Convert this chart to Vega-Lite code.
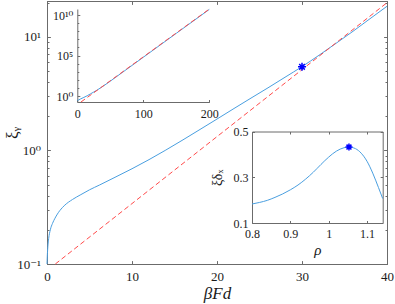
{
  "$schema": "https://vega.github.io/schema/vega-lite/v6.json",
  "width": 340,
  "height": 263,
  "autosize": "none",
  "padding": {"left": 47, "top": 1, "right": 8, "bottom": 40},
  "background": "white",
  "config": {
    "view": {"stroke": "#6b6b6b", "strokeWidth": 1},
    "axis": {
      "grid": false,
      "domainColor": "#6b6b6b",
      "tickColor": "#6b6b6b",
      "labelFont": "'Liberation Serif', 'Times New Roman', 'DejaVu Serif', serif",
      "titleFont": "'Liberation Serif', 'Times New Roman', 'DejaVu Serif', serif",
      "labelColor": "#1a1a1a",
      "titleColor": "#1a1a1a",
      "titleFontWeight": "normal",
      "labelFlush": false,
      "labelOverlap": false,
      "zindex": 1
    }
  },
  "datasets": {
    "blue": [
      {"x": 0, "y": 0.1}, {"x": 0.03, "y": 0.115}, {"x": 0.1, "y": 0.142}, {"x": 0.2, "y": 0.168},
      {"x": 0.39, "y": 0.2}, {"x": 0.65, "y": 0.228}, {"x": 0.94, "y": 0.253}, {"x": 1.5, "y": 0.295},
      {"x": 2.1, "y": 0.33}, {"x": 3, "y": 0.37}, {"x": 3.9, "y": 0.405}, {"x": 5, "y": 0.45},
      {"x": 6.2, "y": 0.497}, {"x": 8, "y": 0.58}, {"x": 10, "y": 0.69}, {"x": 12, "y": 0.83},
      {"x": 13.9, "y": 1.0}, {"x": 16, "y": 1.24}, {"x": 18, "y": 1.53}, {"x": 20, "y": 1.89},
      {"x": 22, "y": 2.34}, {"x": 24, "y": 2.89}, {"x": 26, "y": 3.56}, {"x": 28, "y": 4.41},
      {"x": 30, "y": 5.47}, {"x": 32, "y": 6.89}, {"x": 34, "y": 8.77}, {"x": 36, "y": 11.2},
      {"x": 38, "y": 14.45}, {"x": 40, "y": 18.6}
    ],
    "red": [{"x": 0.98, "y": 0.1}, {"x": 40, "y": 20.0}],
    "star": [{"x": 30, "y": 5.45}],
    "blueA": [
      {"x": 0, "y": 0.3}, {"x": 2, "y": 0.33}, {"x": 5, "y": 0.45}, {"x": 10, "y": 0.69},
      {"x": 15, "y": 1.1}, {"x": 20, "y": 1.89}, {"x": 25, "y": 3.2}, {"x": 30, "y": 5.47},
      {"x": 40, "y": 18.6}, {"x": 60, "y": 270}, {"x": 100, "y": 62000}, {"x": 150, "y": 56000000},
      {"x": 200, "y": 50000000000}
    ],
    "redA": [{"x": 5.56, "y": 0.186}, {"x": 200, "y": 55000000000}],
    "blueB": [
      {"x": 0.8, "y": 0.183}, {"x": 0.82, "y": 0.19}, {"x": 0.84, "y": 0.199}, {"x": 0.86, "y": 0.212},
      {"x": 0.88, "y": 0.227}, {"x": 0.9, "y": 0.245}, {"x": 0.92, "y": 0.266}, {"x": 0.94, "y": 0.292},
      {"x": 0.96, "y": 0.322}, {"x": 0.98, "y": 0.356}, {"x": 1.0, "y": 0.388}, {"x": 1.02, "y": 0.414},
      {"x": 1.04, "y": 0.429}, {"x": 1.053, "y": 0.432}, {"x": 1.07, "y": 0.425}, {"x": 1.085, "y": 0.405},
      {"x": 1.1, "y": 0.37}, {"x": 1.115, "y": 0.318}, {"x": 1.13, "y": 0.255}, {"x": 1.141, "y": 0.207}
    ],
    "starB": [{"x": 1.053, "y": 0.432}]
  },
  "layer": [
    {
      "layer": [
        {
          "data": {"name": "blue"},
          "mark": {"type": "line", "color": "#4a9fe0", "strokeWidth": 1, "interpolate": "monotone"},
          "encoding": {
            "x": {
              "field": "x", "type": "quantitative",
              "scale": {"domain": [0, 40], "nice": false, "zero": false},
              "axis": {
                "orient": "bottom", "values": [0, 10, 20, 30, 40], "tickSize": -3.4,
                "labelPadding": 10, "labelFontSize": 13,
                "title": "βFd", "titleFontSize": 17, "titleFontStyle": "italic", "titlePadding": 2
              }
            },
            "y": {
              "field": "y", "type": "quantitative",
              "scale": {"type": "log", "domain": [0.1, 20.7], "nice": false},
              "axis": {
                "orient": "left",
                "values": [0.1, 0.2, 0.3, 0.4, 0.5, 0.6, 0.7, 0.8, 0.9, 1, 2, 3, 4, 5, 6, 7, 8, 9, 10, 20],
                "labelExpr": "datum.value == 0.1 ? '10⁻¹' : datum.value == 1 ? '10⁰' : datum.value == 10 ? '10¹' : ''",
                "tickSize": {"condition": {"test": "datum.value == 0.1 || datum.value == 1 || datum.value == 10", "value": -3.4}, "value": -2},
                "labelPadding": 10, "labelFontSize": 13,
                "title": "ξᵧ", "titleFontSize": 17, "titlePadding": -5
              }
            }
          }
        },
        {
          "data": {"name": "red"},
          "mark": {"type": "line", "color": "#ff4a4a", "strokeWidth": 1, "strokeDash": [5, 3]},
          "encoding": {
            "x": {
              "field": "x", "type": "quantitative",
              "scale": {"domain": [0, 40], "nice": false, "zero": false},
              "axis": {"orient": "top", "values": [0, 10, 20, 30, 40], "tickSize": -3.4, "labels": false, "title": null}
            },
            "y": {
              "field": "y", "type": "quantitative",
              "scale": {"type": "log", "domain": [0.1, 20.7], "nice": false},
              "axis": {
                "orient": "right",
                "values": [0.1, 0.2, 0.3, 0.4, 0.5, 0.6, 0.7, 0.8, 0.9, 1, 2, 3, 4, 5, 6, 7, 8, 9, 10, 20],
                "tickSize": {"condition": {"test": "datum.value == 0.1 || datum.value == 1 || datum.value == 10", "value": -3.4}, "value": -2},
                "labels": false, "title": null
              }
            }
          }
        },
        {
          "data": {"name": "star"},
          "mark": {"type": "point", "shape": "M-1,0L1,0M0,-1L0,1M-0.7,-0.7L0.7,0.7M-0.7,0.7L0.7,-0.7", "filled": false, "stroke": "#0000ff", "strokeWidth": 1.5, "size": 64, "opacity": 1},
          "encoding": {
            "x": {"field": "x", "type": "quantitative", "scale": {"domain": [0, 40], "nice": false, "zero": false}, "axis": null},
            "y": {"field": "y", "type": "quantitative", "scale": {"type": "log", "domain": [0.1, 20.7], "nice": false}, "axis": null}
          }
        }
      ],
      "resolve": {"axis": {"x": "independent", "y": "independent"}}
    },
    {
      "layer": [
        {
          "data": {"name": "blueA"},
          "mark": {"type": "line", "color": "#4a9fe0", "strokeWidth": 1, "interpolate": "monotone"},
          "encoding": {
            "x": {
              "field": "x", "type": "quantitative",
              "scale": {"domain": [0, 200], "range": [30.3, 162.3], "nice": false, "zero": false},
              "axis": {"orient": "bottom", "offset": -162, "values": [0, 100, 200], "tickSize": -2.5, "labelPadding": 8.5, "labelFontSize": 12, "title": null}
            },
            "y": {
              "field": "y", "type": "quantitative",
              "scale": {"type": "log", "domain": [0.186, 56200000000], "range": [101, 8], "nice": false},
              "axis": {
                "orient": "left", "offset": -30.3,
                "values": [1, 10, 100, 1000, 10000, 100000, 1000000, 10000000, 100000000, 1000000000, 10000000000],
                "labelExpr": "datum.value == 1 ? '10⁰' : datum.value == 100000 ? '10⁵' : datum.value == 10000000000 ? '10¹⁰' : ''",
                "tickSize": {"condition": {"test": "datum.value == 1 || datum.value == 100000 || datum.value == 10000000000", "value": -2.5}, "value": -1.5},
                "labelPadding": 7, "labelFontSize": 12, "title": null
              }
            }
          }
        },
        {
          "data": {"name": "redA"},
          "mark": {"type": "line", "color": "#ff4a4a", "strokeWidth": 1, "strokeDash": [5, 3]},
          "encoding": {
            "x": {"field": "x", "type": "quantitative", "scale": {"domain": [0, 200], "range": [30.3, 162.3], "nice": false, "zero": false}, "axis": null},
            "y": {"field": "y", "type": "quantitative", "scale": {"type": "log", "domain": [0.186, 56200000000], "range": [101, 8], "nice": false}, "axis": null}
          }
        },
        {
          "mark": {"type": "text", "text": "(a)", "font": "'Liberation Serif', 'Times New Roman', 'DejaVu Serif', serif", "fontSize": 13, "align": "left", "baseline": "middle", "color": "#1a1a1a"},
          "encoding": {
            "x": {"datum": 7, "type": "quantitative", "scale": {"domain": [0, 200], "range": [30.3, 162.3], "nice": false, "zero": false}, "axis": null},
            "y": {"datum": 10000000000, "type": "quantitative", "scale": {"type": "log", "domain": [0.186, 56200000000], "range": [101, 8], "nice": false}, "axis": null}
          }
        }
      ],
      "resolve": {"axis": {"x": "independent", "y": "independent"}}
    },
    {
      "layer": [
        {
          "mark": {"type": "rect", "fill": "white", "stroke": "#6b6b6b", "strokeWidth": 1},
          "encoding": {
            "x": {"datum": 0.8, "type": "quantitative", "scale": {"domain": [0.8, 1.141], "range": [205, 335.7], "nice": false, "zero": false}, "axis": null},
            "x2": {"datum": 1.141},
            "y": {"datum": 0.1, "type": "quantitative", "scale": {"domain": [0.1, 0.5], "range": [222, 130.5], "nice": false, "zero": false}, "axis": null},
            "y2": {"datum": 0.5}
          }
        },
        {
          "data": {"name": "blueB"},
          "mark": {"type": "line", "color": "#4a9fe0", "strokeWidth": 1, "interpolate": "monotone"},
          "encoding": {
            "x": {
              "field": "x", "type": "quantitative",
              "scale": {"domain": [0.8, 1.141], "range": [205, 335.7], "nice": false, "zero": false},
              "axis": {"orient": "bottom", "offset": -41, "values": [0.8, 0.9, 1, 1.1], "format": "~g", "tickSize": -2.5, "labelPadding": 7.5, "labelFontSize": 12, "title": "ρ", "titleFontSize": 15, "titleFontStyle": "italic", "titlePadding": 3}
            },
            "y": {
              "field": "y", "type": "quantitative",
              "scale": {"domain": [0.1, 0.5], "range": [222, 130.5], "nice": false, "zero": false},
              "axis": {"orient": "left", "offset": -205, "values": [0.1, 0.3, 0.5], "format": "~g", "tickSize": -2.5, "labelPadding": 6.5, "labelFontSize": 12, "title": "ξδₓ", "titleFontSize": 14, "titlePadding": 9}
            }
          }
        },
        {
          "data": {"name": "starB"},
          "mark": {"type": "point", "shape": "M-1,0L1,0M0,-1L0,1M-0.7,-0.7L0.7,0.7M-0.7,0.7L0.7,-0.7", "filled": false, "stroke": "#0000ff", "strokeWidth": 1.5, "size": 49, "opacity": 1},
          "encoding": {
            "x": {
              "field": "x", "type": "quantitative",
              "scale": {"domain": [0.8, 1.141], "range": [205, 335.7], "nice": false, "zero": false},
              "axis": {"orient": "top", "offset": -130.5, "values": [0.8, 0.9, 1, 1.1], "tickSize": -2.5, "labels": false, "title": null}
            },
            "y": {
              "field": "y", "type": "quantitative",
              "scale": {"domain": [0.1, 0.5], "range": [222, 130.5], "nice": false, "zero": false},
              "axis": {"orient": "right", "offset": -4.3, "values": [0.1, 0.3, 0.5], "tickSize": -2.5, "labels": false, "title": null}
            }
          }
        },
        {
          "mark": {"type": "text", "text": "(b)", "font": "'Liberation Serif', 'Times New Roman', 'DejaVu Serif', serif", "fontSize": 13, "align": "left", "baseline": "middle", "color": "#1a1a1a"},
          "encoding": {
            "x": {"datum": 0.805, "type": "quantitative", "scale": {"domain": [0.8, 1.141], "range": [205, 335.7], "nice": false, "zero": false}, "axis": null},
            "y": {"datum": 0.455, "type": "quantitative", "scale": {"domain": [0.1, 0.5], "range": [222, 130.5], "nice": false, "zero": false}, "axis": null}
          }
        }
      ],
      "resolve": {"axis": {"x": "independent", "y": "independent"}}
    }
  ],
  "resolve": {"scale": {"x": "independent", "y": "independent"}}
}
